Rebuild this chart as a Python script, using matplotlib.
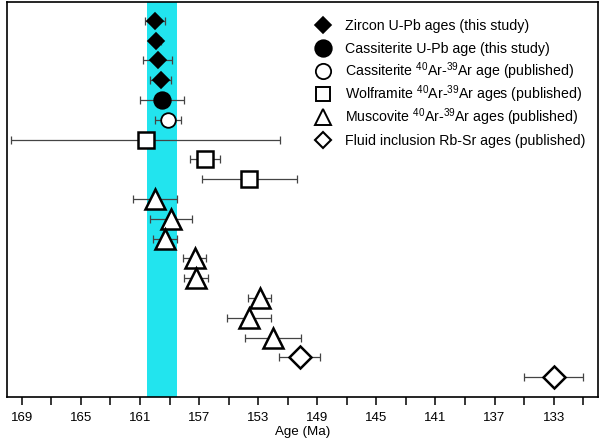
import matplotlib
matplotlib.use("Agg")
import matplotlib.pyplot as plt

plt.rcParams['font.family'] = ['Liberation Sans', 'DejaVu Sans']
plt.rcParams['mathtext.fontset'] = 'custom'
plt.rcParams['mathtext.rm'] = 'Liberation Sans'

# ages (Ma), 2-sigma errors and row index (1 = top)
zircon_age = [160.0, 159.9, 159.8, 159.6]
zircon_err = [0.67, 0.3, 1.0, 0.7]
zircon_row = [1, 2, 3, 4]

cass_upb_age = [159.5]
cass_upb_err = [1.5]
cass_upb_row = [5]

cass_ar_age = [159.1]
cass_ar_err = [0.9]
cass_ar_row = [6]

wolf_age = [160.6, 156.6, 153.6]
wolf_err = [9.1, 1.0, 3.2]
wolf_row = [7, 8, 9]

musc_age = [160.0, 158.9, 159.3, 157.3, 157.2, 152.9, 153.6, 152.0]
musc_err = [1.5, 1.4, 0.8, 0.8, 0.8, 0.8, 1.5, 1.9]
musc_row = [10, 11, 12, 13, 14, 15, 16, 17]

fluid_age = [150.2, 133.0]
fluid_err = [1.4, 2.0]
fluid_row = [18, 19]

band = (160.5, 158.5)
major_ticks = [169, 165, 161, 157, 153, 149, 145, 141, 137, 133]
minor_ticks = [167, 163, 159, 155, 151, 147, 143, 139, 135, 131]

labels = [
    'Zircon U-Pb ages (this study)',
    'Cassiterite U-Pb age (this study)',
    'Cassiterite $^{40}$Ar-$^{39}$Ar age (published)',
    'Wolframite $^{40}$Ar-$^{39}$Ar ages (published)',
    'Muscovite $^{40}$Ar-$^{39}$Ar ages (published)',
    'Fluid inclusion Rb-Sr ages (published)',
]

styles = [
    dict(marker='D', ms=8.2, mfc='black', mec='black', mew=1.2),
    dict(marker='o', ms=12, mfc='black', mec='black', mew=1.2),
    dict(marker='o', ms=10.5, mfc='white', mec='black', mew=1.3),
    dict(marker='s', ms=11.5, mfc='white', mec='black', mew=1.8),
    dict(marker='^', ms=15, mfc='white', mec='black', mew=1.8),
    dict(marker='D', ms=11, mfc='white', mec='black', mew=1.8),
]
legend_ms = [8.4, 12, 11, 10.5, 11.5, 8.3]
legend_mew = [1.2, 1.2, 1.3, 1.4, 1.4, 1.5]

series = [
    (zircon_age, zircon_err, zircon_row),
    (cass_upb_age, cass_upb_err, cass_upb_row),
    (cass_ar_age, cass_ar_err, cass_ar_row),
    (wolf_age, wolf_err, wolf_row),
    (musc_age, musc_err, musc_row),
    (fluid_age, fluid_err, fluid_row),
]

fig = plt.figure(figsize=(6, 4.41), dpi=100)
ax = fig.add_axes([7 / 600, 1 - 397 / 441, 591 / 600, 395 / 441])

ax.axvspan(band[0], band[1], color='#22e4ee', lw=0, zorder=0)

for (age, err, row), st in zip(series, styles):
    ax.errorbar(age, row, xerr=err, fmt='none', ecolor='#444444',
                elinewidth=0.9, capsize=3, capthick=0.9, zorder=2)
    ax.plot(age, row, ls='none', zorder=3, **st)

ax.set_xlim(170, 130)
ax.set_ylim(20.0, 0.05)
ax.set_yticks([])
ax.set_xticks(major_ticks)
ax.set_xticks(minor_ticks, minor=True)
ax.tick_params(axis='x', which='both', direction='out', length=6, width=1.1,
               labelsize=9.5, pad=5)
for s in ax.spines.values():
    s.set_linewidth(1.2)
ax.set_xlabel('Age (Ma)', fontsize=9.6, labelpad=1)

# hand-placed legend so every row has the same spacing
for i, (lab, st) in enumerate(zip(labels, styles)):
    y = 1 - (25 + 23 * i - 2) / 395
    hst = dict(st)
    hst['ms'] = legend_ms[i]
    hst['mew'] = legend_mew[i]
    ax.plot([0.535], [y], ls='none', transform=ax.transAxes, clip_on=False, **hst)
    ax.text(0.572, y - 5 / 395, lab, transform=ax.transAxes, fontsize=10.2,
            va='baseline', ha='left')

fig.savefig('out.png', dpi=100)
